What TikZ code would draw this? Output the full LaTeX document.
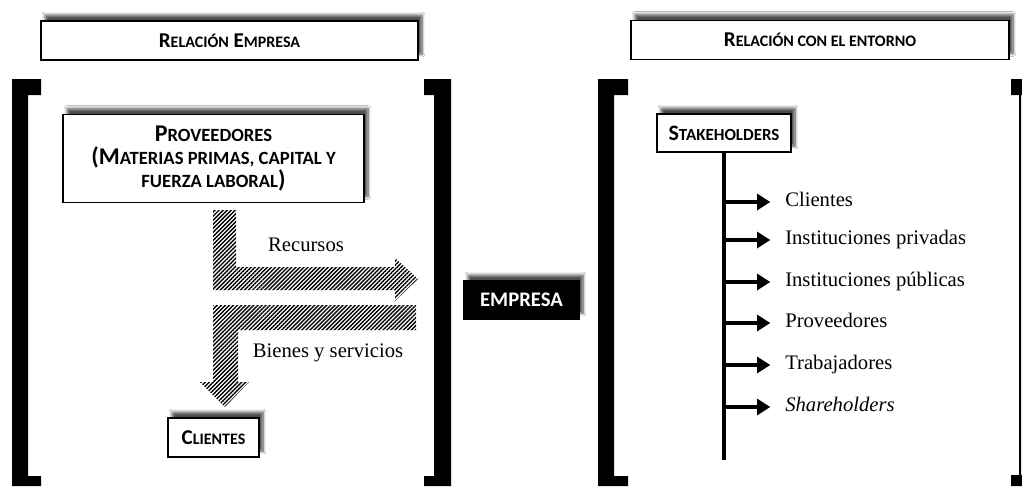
\documentclass[tikz,border=0pt]{standalone}
\usepackage{fontspec}
\setmainfont{Liberation Serif}
\newfontfamily\calibri{Carlito}
\usetikzlibrary{shadows.blur,patterns.meta,arrows.meta}
\newcommand\smc{\fontsize{12pt}{14pt}\selectfont}
\newcommand\smcb{\fontsize{14pt}{17pt}\selectfont}
\begin{document}
\begin{tikzpicture}[x=0.75pt,y=-0.75pt,
  shbox/.style={draw=black,line width=1.1pt,fill=white,inner sep=0pt,
    blur shadow={shadow xshift=3pt,shadow yshift=4.5pt,shadow blur radius=2.2pt,shadow opacity=70,shadow blur steps=8},
    font=\calibri\bfseries\fontsize{15.8pt}{17pt}\selectfont,align=center},
  bigbox/.style={shbox,font=\calibri\bfseries\fontsize{18pt}{17pt}\selectfont},
  blkbox/.style={shbox,fill=black,text=white,font=\calibri\bfseries\fontsize{15.5pt}{18pt}\selectfont},
  brk/.style={fill=black},
  hatch/.style={pattern={Lines[angle=45,distance=2.15pt,line width=1.05pt]}},
  lbl/.style={font=\fontsize{15.5pt}{18pt}\selectfont,inner sep=0pt},
  item/.style={font=\fontsize{15.5pt}{18pt}\selectfont,inner sep=0pt,anchor=west,text height=10pt,text depth=3pt},
  larr/.style={line width=3pt,-{Triangle[length=10pt,width=12pt]},shorten >=11pt}
]
\useasboundingbox (0,0) rectangle (1022,486);
\fill[white] (0,0) rectangle (1022,486);

% brackets
\fill[brk] (12,79)--(41,79)--(41,95)--(28,95)--(28,476)--(41,476)--(41,486)--(12,486)--cycle;
\fill[brk] (424,79)--(451,79)--(451,486)--(424,486)--(424,476)--(434,476)--(434,95)--(424,95)--cycle;
\fill[brk] (598,79)--(628,79)--(628,95)--(614,95)--(614,476)--(628,476)--(628,486)--(598,486)--cycle;
\fill[brk] (1011,79)--(1022,79)--(1022,95)--(1021,95)--(1021,475)--(1022,475)--(1022,486)--(1011,486)--(1011,475)--(1019,475)--(1019,95)--(1011,95)--cycle;

% headers
\node[shbox,minimum width={377*0.75pt},minimum height={39*0.75pt}] (h1) at (229.5,40.5)
  {R{\smc ELACIÓN} E{\smc MPRESA}};
\node[shbox,minimum width={378*0.75pt},minimum height={39*0.75pt}] (h2) at (820,40)
  {R{\smc ELACIÓN CON EL ENTORNO}};

% left panel
\node[bigbox,minimum width={301*0.75pt},minimum height={88*0.75pt}] (prov) at (213.5,158.5)
  {P{\smcb ROVEEDORES}\\(M{\smcb ATERIAS PRIMAS, CAPITAL Y}\\{\smcb FUERZA LABORAL})};
\node[shbox,minimum width={91*0.75pt},minimum height={39*0.75pt}] (cli) at (213.5,437.5)
  {C{\smc LIENTES}};

\fill[hatch] (213,210)--(236,210)--(236,267)--(395,267)--(395,258)--(418,279)--(395,301)--(395,290)--(213,290)--cycle;
\fill[hatch] (213,305)--(416,305)--(416,330)--(238,330)--(238,382)--(249,382)--(225,407)--(200,382)--(213,382)--cycle;
\node[lbl] (rec) at (306,245) {Recursos};
\node[lbl] (bys) at (328,353) {Bienes y servicios};

% center
\node[blkbox,minimum width={115*0.75pt},minimum height={38*0.75pt}] (emp) at (521.5,300) {EMPRESA};

% right panel
\node[shbox,font=\calibri\bfseries\fontsize{16.5pt}{17pt}\selectfont,minimum width={134*0.75pt},minimum height={38*0.75pt}] (stk) at (724,133)
  {S{\fontsize{12.7pt}{14pt}\selectfont TAKEHOLDERS}};
\coordinate (vend) at (724,460);
\draw[line width=3.4pt] (stk.south) -- (vend);

\node[item] (s1) at (785,202) {Clientes};
\node[item] (s2) at (785,240) {Instituciones privadas};
\node[item] (s3) at (785,282) {Instituciones públicas};
\node[item] (s4) at (785,323) {Proveedores};
\node[item] (s5) at (785,365) {Trabajadores};
\node[item] (s6) at (785,407) {\textit{Shareholders}};
\foreach \i/\yy in {1/202,2/240,3/282,4/323,5/365,6/407}{
  \coordinate (b\i) at (724,\yy);
  \draw[larr] (b\i) -- (s\i.west);
}
\end{tikzpicture}
\end{document}
